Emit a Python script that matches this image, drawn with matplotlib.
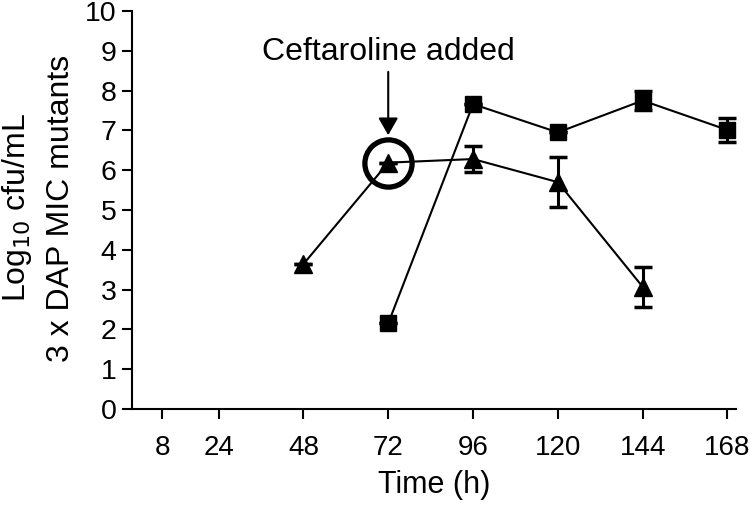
import matplotlib
matplotlib.use("Agg")
import matplotlib.pyplot as plt

plt.rcParams['font.family'] = ['Liberation Sans', 'DejaVu Sans']

# Data
tri_time = [48, 72, 96, 120, 144]
tri_vals = [3.64, 6.19, 6.28, 5.70, 3.07]
tri_err = [0.0, 0.0, 0.33, 0.62, 0.50]

sq_time = [72, 96, 120, 144, 168]
sq_vals = [2.15, 7.66, 6.95, 7.75, 7.01]
sq_err = [0.0, 0.0, 0.0, 0.23, 0.29]

xticks = [8, 24, 48, 72, 96, 120, 144, 168]
yticks = list(range(0, 11))

added_time = 72
added_val = 6.19

fig = plt.figure(figsize=(7.5, 5.05), dpi=100)
ax = fig.add_axes([132/750, 1 - 409/505, 603.6/750, 398/505])

ax.errorbar(sq_time, sq_vals, yerr=sq_err, color='black', marker='s', ms=11.5,
            lw=1.5, elinewidth=2.2, capsize=6.5, capthick=2.5, clip_on=False, zorder=3)
ax.errorbar(tri_time, tri_vals, yerr=tri_err, color='black', marker='^', ms=12.5,
            lw=1.5, elinewidth=2.2, capsize=6.5, capthick=2.5, clip_on=False, zorder=3)

# circle highlight
ax.plot([added_time], [added_val], marker='o', ms=34, mfc='none', mec='black',
        mew=3.8, zorder=4)

ax.annotate('', xy=(added_time, 6.88), xytext=(added_time, 8.47),
            arrowprops=dict(arrowstyle='-|>,head_length=1.05,head_width=0.6',
                            color='black', lw=1.5, shrinkA=0, shrinkB=0))
ax.text(added_time, 8.77, 'Ceftaroline added', ha='center', va='baseline', fontsize=23)

ax.set_xlim(-0.5, 170.3)
ax.set_ylim(0, 10)
ax.set_xticks(xticks)
ax.set_yticks(yticks)
ax.tick_params(labelsize=20.5, width=1.5, length=7, pad=4)
ax.tick_params(axis='x', pad=12, labelsize=20)
for s in ['top', 'right']:
    ax.spines[s].set_visible(False)
for s in ['left', 'bottom']:
    ax.spines[s].set_linewidth(1.5)

ax.set_xlabel('Time (h)', fontsize=22, labelpad=6)

fig.text(17/750, 1 - 208/505, r'Log$_{10}$ cfu/mL', rotation=90, ha='center', va='center', fontsize=23)
fig.text(61/750, 1 - 208/505, '3 x DAP MIC mutants', rotation=90, ha='center', va='center', fontsize=23)

fig.savefig('out.png', dpi=100)
